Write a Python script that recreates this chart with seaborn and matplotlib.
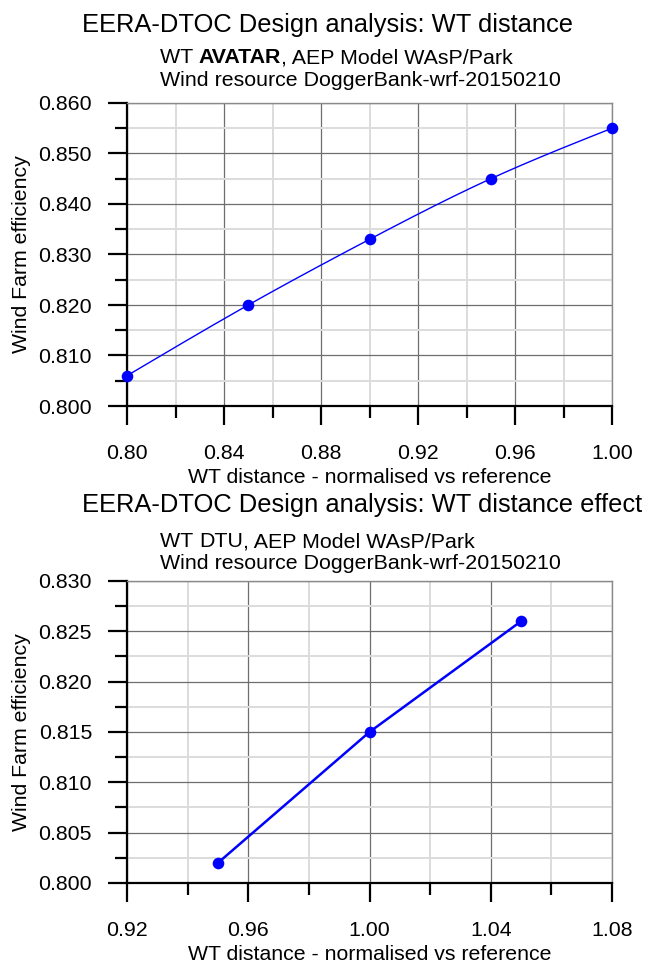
import numpy as np
import pandas as pd
import seaborn as sns
import matplotlib
matplotlib.use("Agg")
import matplotlib.pyplot as plt
from matplotlib.ticker import MultipleLocator, FormatStrFormatter

# --- data -------------------------------------------------------------
avatar_distance = [0.80, 0.85, 0.90, 0.95, 1.00]
avatar_efficiency = [0.806, 0.820, 0.833, 0.845, 0.855]

dtu_distance = [0.95, 1.00, 1.05]
dtu_efficiency = [0.802, 0.815, 0.826]

title_top = "EERA-DTOC Design analysis: WT distance"
title_bottom = "EERA-DTOC Design analysis: WT distance effect"
turbine_top = "AVATAR"
turbine_bottom = "DTU"
model_text = ", AEP Model WAsP/Park"
resource_text = "Wind resource DoggerBank-wrf-20150210"
xlabel = "WT distance - normalised vs reference"
ylabel = "Wind Farm efficiency"

# --- style ------------------------------------------------------------
sns.set_theme(style="white")
plt.rcParams["font.family"] = ["Liberation Sans", "DejaVu Sans"]
plt.rcParams.update({
    "text.color": "black",
    "axes.labelcolor": "black",
    "xtick.color": "black",
    "ytick.color": "black",
    "xtick.labelcolor": "black",
    "ytick.labelcolor": "black",
})

W, H = 648, 965
DPI = 100
fig = plt.figure(figsize=(W / DPI, H / DPI), dpi=DPI)

BLUE = "#0000ff"
PX = 72.0 / DPI  # points per pixel
TITLE_FS = 18.4
SUB_FS = 15.4
TICK_FS = 15.4
LABEL_FS = 15.3


def natural_spline(x, y, n=200):
    """Natural cubic spline through the points, for a smooth curve."""
    x = np.asarray(x, float)
    y = np.asarray(y, float)
    k = len(x)
    h = np.diff(x)
    A = np.zeros((k, k))
    b = np.zeros(k)
    A[0, 0] = A[-1, -1] = 1.0
    for i in range(1, k - 1):
        A[i, i - 1] = h[i - 1]
        A[i, i] = 2 * (h[i - 1] + h[i])
        A[i, i + 1] = h[i]
        b[i] = 6 * ((y[i + 1] - y[i]) / h[i] - (y[i] - y[i - 1]) / h[i - 1])
    M = np.linalg.solve(A, b)
    xs = np.linspace(x[0], x[-1], n)
    idx = np.clip(np.searchsorted(x, xs) - 1, 0, k - 2)
    x0, x1 = x[idx], x[idx + 1]
    hh = x1 - x0
    t0 = x1 - xs
    t1 = xs - x0
    ys = (M[idx] * t0 ** 3 / (6 * hh) + M[idx + 1] * t1 ** 3 / (6 * hh)
          + (y[idx] / hh - M[idx] * hh / 6) * t0
          + (y[idx + 1] / hh - M[idx + 1] * hh / 6) * t1)
    return xs, ys


def style_axes(ax, xlim, xmaj, xmin, ylim, ymaj, ymin):
    ax.set_xlim(*xlim)
    ax.set_ylim(*ylim)
    ax.xaxis.set_major_locator(MultipleLocator(xmaj))
    ax.xaxis.set_minor_locator(MultipleLocator(xmin))
    ax.yaxis.set_major_locator(MultipleLocator(ymaj))
    ax.yaxis.set_minor_locator(MultipleLocator(ymin))
    ax.xaxis.set_major_formatter(FormatStrFormatter("%.2f"))
    ax.yaxis.set_major_formatter(FormatStrFormatter("%.3f"))
    ax.grid(which="minor", color="#dcdcdc", linewidth=1.4)
    ax.grid(which="major", color="#6e6e6e", linewidth=0.9)
    ax.set_axisbelow(True)
    for side in ("left", "bottom"):
        ax.spines[side].set_color("black")
        ax.spines[side].set_linewidth(1.6)
    for side in ("top", "right"):
        ax.spines[side].set_color("#8a8a8a")
        ax.spines[side].set_linewidth(1.0)
    ax.tick_params(which="major", direction="out", length=19 * PX, width=1.6,
                   color="black", labelsize=TICK_FS, bottom=True, left=True)
    ax.tick_params(which="minor", direction="out", length=12 * PX, width=1.6,
                   color="black", bottom=True, left=True)
    ax.tick_params(axis="x", which="major", pad=19 * PX)
    ax.tick_params(axis="y", which="major", pad=16 * PX)
    ax.set_xlabel(xlabel, fontsize=LABEL_FS, labelpad=3.5)
    ax.set_ylabel(ylabel, fontsize=LABEL_FS, labelpad=5)


def fy(py):
    return 1 - py / H


def header(title, turbine, title_base, sub_base, sub2_base):
    fig.text(82 / W, fy(title_base), title, fontsize=TITLE_FS, ha="left",
             va="baseline")
    renderer = fig.canvas.get_renderer()
    t1 = fig.text(160 / W, fy(sub_base), "WT ", fontsize=SUB_FS, ha="left",
                  va="baseline")
    x = t1.get_window_extent(renderer).x1
    t2 = fig.text(x / W, fy(sub_base), turbine, fontsize=SUB_FS, ha="left",
                  va="baseline",
                  fontweight="bold" if turbine == turbine_top else "normal")
    x = t2.get_window_extent(renderer).x1
    fig.text(x / W, fy(sub_base), model_text, fontsize=SUB_FS, ha="left",
             va="baseline")
    fig.text(160 / W, fy(sub2_base), resource_text, fontsize=SUB_FS,
             ha="left", va="baseline")


# --- top panel: AVATAR -----------------------------------------------
ax1 = fig.add_axes([127 / W, fy(406), 485 / W, 303 / H])
xs, ys = natural_spline(avatar_distance, avatar_efficiency)
sns.lineplot(x=xs, y=ys, ax=ax1, color=BLUE, linewidth=1.0, sort=False)
sns.scatterplot(x=avatar_distance, y=avatar_efficiency, ax=ax1, color=BLUE,
                s=70, edgecolor=BLUE, linewidth=0, zorder=5, clip_on=False)
style_axes(ax1, (0.80, 1.00), 0.04, 0.02, (0.800, 0.860), 0.010, 0.005)
header(title_top, turbine_top, 32, 63, 86)

# --- bottom panel: DTU ------------------------------------------------
ax2 = fig.add_axes([127 / W, fy(883), 485 / W, 302 / H])
sns.lineplot(x=dtu_distance, y=dtu_efficiency, ax=ax2, color=BLUE,
             linewidth=1.8)
sns.scatterplot(x=dtu_distance, y=dtu_efficiency, ax=ax2, color=BLUE,
                s=70, edgecolor=BLUE, linewidth=0, zorder=5, clip_on=False)
style_axes(ax2, (0.92, 1.08), 0.04, 0.02, (0.800, 0.830), 0.005, 0.0025)
header(title_bottom, turbine_bottom, 512, 547, 569)

fig.savefig("out.png", dpi=DPI)
